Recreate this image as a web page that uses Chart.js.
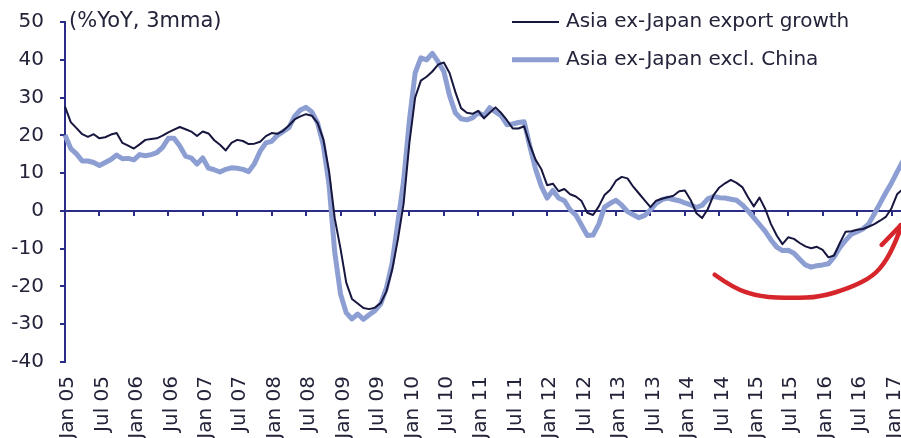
<!DOCTYPE html>
<html>
<head>
<meta charset="utf-8">
<script src="https://cdn.jsdelivr.net/npm/chart.js@4.4.1/dist/chart.umd.min.js"></script>
<style>
  html, body { margin: 0; padding: 0; background: #fff; overflow: hidden; }
  #wrap { width: 901px; height: 438px; overflow: hidden; }
</style>
</head>
<body>
<div id="wrap"><canvas id="chart" width="903" height="438"></canvas></div>
<script>
// monthly data, Jan 05 .. Mar 17 (%YoY, 3mma)
const monthNames = ['Jan', 'Feb', 'Mar', 'Apr', 'May', 'Jun', 'Jul', 'Aug', 'Sep', 'Oct', 'Nov', 'Dec'];
const firstYear = 2005;
const monthCount = 147;

const exportGrowth = [
  27.6, 23.5, 21.9, 20.3, 19.6, 20.3, 19.2, 19.5, 20.2, 20.6,
  18, 17.3, 16.5, 17.6, 18.8, 19, 19.2, 19.9, 20.8, 21.5,
  22.2, 21.6, 21, 19.8, 21, 20.5, 18.7, 17.5, 16, 18,
  18.8, 18.5, 17.7, 17.8, 18.3, 19.8, 20.6, 20.4, 21.2, 22.6,
  24.2, 25, 25.6, 25.2, 23.3, 19, 10.5, -2, -10, -19,
  -23.3, -24.5, -25.7, -26, -25.6, -24.4, -21.3, -15.6, -7.5, 2,
  18, 30, 34.5, 35.5, 36.9, 38.7, 39.3, 36.5, 31.5, 27.2,
  26, 25.7, 26.5, 24.5, 26, 27.4, 25.9, 24, 21.8, 21.8,
  22.4, 17.5, 13.5, 11, 6.8, 7.2, 5.2, 5.8, 4.4, 3.8,
  2.6, -0.5, -1.1, 1.2, 4.2, 5.6, 8, 9, 8.6, 6.4,
  4.6, 2.8, 1, 2.7, 3.2, 3.6, 4, 5.2, 5.4, 2.9,
  -0.6, -1.9, 0.5, 4.2, 6.2, 7.3, 8.2, 7.4, 6.3, 3.6,
  1.2, 3.5, 0.5, -3.5, -6.5, -8.8, -7, -7.4, -8.5, -9.4,
  -9.9, -9.5, -10.3, -12.3, -11.8, -8.5, -5.5, -5.4, -5, -4.8,
  -4.2, -3.5, -2.6, -1.6, 0.7, 4.5, 5.8
];

const exclChina = [
  20.1, 16.5, 15.1, 13.2, 13.2, 12.8, 12, 12.8, 13.6, 14.8,
  13.8, 13.9, 13.5, 14.9, 14.6, 14.9, 15.4, 16.8, 19.2, 19.2,
  17.2, 14.5, 14, 12.4, 14, 11.3, 10.9, 10.3, 11, 11.4,
  11.3, 11, 10.4, 12.5, 15.8, 18, 18.4, 20, 21, 22,
  25, 26.7, 27.4, 26.2, 23.3, 17.5, 7, -11, -22, -27,
  -28.6, -27.3, -28.7, -27.5, -26.4, -24.6, -20.4, -13.8, -3, 8,
  24, 36.5, 40.5, 40, 41.7, 39.5, 36.9, 30.5, 26, 24.4,
  24.1, 24.6, 26, 25.2, 27.3, 26.2, 25.2, 22.8, 23, 23.4,
  23.6, 17, 11, 6.5, 3.4, 5.4, 3.4, 2.7, 0.3, -1.1,
  -3.8, -6.5, -6.4, -3.5, 1, 2, 2.8, 1.5, -0.2, -1,
  -1.8, -1.2, 0.3, 2, 3, 3.4, 3, 2.7, 2.1, 1.6,
  0.9, 1.5, 3.2, 3.8, 3.5, 3.4, 3.1, 2.8, 1.6, 0,
  -1.8, -3.6, -5.4, -7.7, -9.6, -10.5, -10.4, -11.2, -12.8, -14.3,
  -14.9, -14.5, -14.3, -14, -12.2, -9.7, -7.8, -6.2, -5.5, -4.8,
  -3.5, -0.8, 2, 4.8, 7.4, 10.4, 13.2
];

// hand-drawn red arrow, in (month index, value) coordinates
const arrowPath = [
  [113.2, -16.9], [116.4, -20.4], [121.1, -22.8], [126.8, -23.1], [131.5, -22.8],
  [136.8, -20.4], [140.8, -17.3], [143.2, -13], [145.1, -6.8], [145.6, -3.8]
];
const arrowBarbs = [[142.3, -9], [146.6, -10.5]];

const months = [];
for (let i = 0; i < monthCount; i++) {
  const yr = String((firstYear + Math.floor(i / 12)) % 100).padStart(2, '0');
  months.push(monthNames[i % 12] + ' ' + yr);
}

const axisColor = '#2a2c86';
const textColor = '#23233a';
const darkLine = '#16163f';
const lightLine = '#8d9ed3';
const FONT = 'DejaVu Sans';

Chart.defaults.font.family = FONT;
Chart.defaults.font.size = 20;
Chart.defaults.color = textColor;

const overlay = {
  id: 'overlay',
  afterDatasetsDraw(chart) {
    const ctx = chart.ctx;
    const xs = chart.scales.x, ys = chart.scales.y;
    const area = chart.chartArea;

    // red arrow
    ctx.save();
    ctx.strokeStyle = '#d6262b';
    ctx.lineWidth = 4.5;
    ctx.lineCap = 'round';
    ctx.lineJoin = 'round';
    const pts = arrowPath.map(p => [xs.getPixelForValue(p[0]), ys.getPixelForValue(p[1])]);
    ctx.beginPath();
    ctx.moveTo(pts[0][0], pts[0][1]);
    for (let i = 1; i < pts.length - 1; i++) {
      const mx = (pts[i][0] + pts[i + 1][0]) / 2, my = (pts[i][1] + pts[i + 1][1]) / 2;
      ctx.quadraticCurveTo(pts[i][0], pts[i][1], mx, my);
    }
    const tip = pts[pts.length - 1];
    ctx.lineTo(tip[0], tip[1]);
    ctx.stroke();
    arrowBarbs.forEach(b => {
      ctx.beginPath();
      ctx.moveTo(tip[0], tip[1]);
      ctx.lineTo(xs.getPixelForValue(b[0]), ys.getPixelForValue(b[1]));
      ctx.stroke();
    });
    ctx.restore();

    // unit label
    ctx.save();
    ctx.fillStyle = textColor;
    ctx.textBaseline = 'middle';
    ctx.font = '21px "' + FONT + '"';
    ctx.fillText('(%YoY, 3mma)', area.left + 4, ys.getPixelForValue(50));

    // legend
    ctx.font = '20px "' + FONT + '"';
    chart.data.datasets.forEach((ds, i) => {
      const y = ys.getPixelForValue(50 - i * 10);
      ctx.strokeStyle = ds.borderColor;
      ctx.lineWidth = ds.borderWidth;
      ctx.beginPath();
      ctx.moveTo(512, y);
      ctx.lineTo(559, y);
      ctx.stroke();
      ctx.fillText(ds.label, 566, y);
    });
    ctx.restore();
  }
};

new Chart(document.getElementById('chart'), {
  type: 'line',
  data: {
    labels: months,
    datasets: [
      { label: 'Asia ex-Japan export growth', data: exportGrowth, borderColor: darkLine, borderWidth: 2 },
      { label: 'Asia ex-Japan excl. China', data: exclChina, borderColor: lightLine, borderWidth: 5 }
    ]
  },
  options: {
    responsive: false,
    animation: false,
    layout: { padding: { top: 22, left: 0, right: 0, bottom: 0 }, autoPadding: false },
    elements: { point: { radius: 0 }, line: { tension: 0, borderJoinStyle: 'round' } },
    plugins: { legend: { display: false }, tooltip: { enabled: false } },
    scales: {
      x: {
        type: 'category',
        position: 'bottom',
        border: { display: false },
        grid: { display: false, drawTicks: false },
        ticks: {
          autoSkip: false,
          minRotation: 90,
          maxRotation: 90,
          padding: 14,
          labelOffset: 3,
          callback: (v, i) => (i % 6 === 0 ? months[i] : '')
        },
        afterFit: s => { s.height = 76; s.paddingLeft = 0; s.paddingRight = 0; }
      },
      x0: {
        type: 'category',
        position: { y: 0 },
        border: { color: axisColor, width: 2 },
        grid: {
          drawOnChartArea: false,
          tickLength: 4,
          lineWidth: 2,
          color: c => (c.index % 6 === 0 ? axisColor : 'rgba(0,0,0,0)')
        },
        ticks: { display: false },
        afterFit: s => { s.paddingLeft = 0; s.paddingRight = 0; }
      },
      y: {
        position: 'left',
        min: -40,
        max: 50,
        border: { color: axisColor, width: 2 },
        grid: { drawOnChartArea: false, drawTicks: true, tickLength: 5, lineWidth: 2, color: axisColor },
        ticks: { stepSize: 10, padding: 16, crossAlign: 'near' },
        afterFit: s => { s.width = 65; s.paddingTop = 0; s.paddingBottom = 0; }
      }
    }
  },
  plugins: [overlay]
});
</script>
</body>
</html>
